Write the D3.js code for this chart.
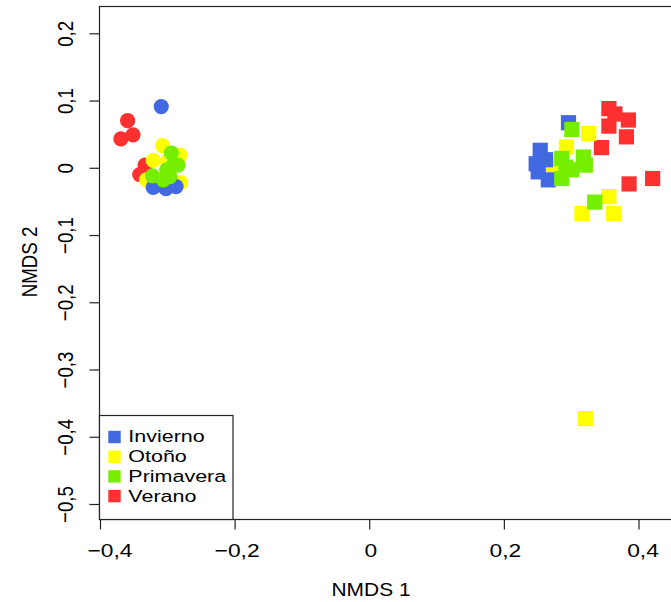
<!DOCTYPE html>
<html><head><meta charset="utf-8">
<script src="https://cdn.jsdelivr.net/npm/d3@7"></script>
<style>body{margin:0;background:#fff}svg{display:block}text{font-family:"Liberation Sans",Arial,sans-serif;fill:#000}</style>
</head><body>
<svg id="c" width="671" height="602"></svg>
<script>
const seasons = ["Invierno", "Otoño", "Primavera", "Verano"];
const colors = ["#4169E1", "#FFFF00", "#76EE00", "#FF3030"];
const xTicks = [-0.4, -0.2, 0, 0.2, 0.4];
const yTicks = [-0.5, -0.4, -0.3, -0.2, -0.1, 0, 0.1, 0.2];
// circles (left group)
const inviernoCirc = [[-0.309,0.091],[-0.321,-0.029],[-0.287,-0.028],[-0.302,-0.031],[-0.310,-0.020]];
const otonoCirc = [[-0.307,0.033],[-0.321,0.011],[-0.281,0.019],[-0.280,-0.022],[-0.331,-0.018],[-0.300,0.010]];
const primaveraCirc = [[-0.294,0.022],[-0.291,0.005],[-0.301,-0.003],[-0.322,-0.012],[-0.306,-0.018],[-0.296,-0.013],[-0.284,0.004]];
const veranoCirc = [[-0.359,0.070],[-0.369,0.043],[-0.351,0.049],[-0.341,-0.010],[-0.333,0.004],[-0.300,-0.028]];
// squares (right group)
const inviernoSq = [[0.296,0.067],[0.254,0.026],[0.248,0.006],[0.251,-0.006],[0.266,-0.018],[0.262,0.012]];
const otonoSq = [[0.326,0.051],[0.293,0.031],[0.271,0.004],[0.356,-0.043],[0.316,-0.068],[0.363,-0.068],[0.321,-0.373],[0.285,0.000]];
const primaveraSq = [[0.301,0.057],[0.286,0.014],[0.318,0.016],[0.321,0.004],[0.301,-0.003],[0.286,-0.016],[0.335,-0.051],[0.292,0.001]];
const veranoSq = [[0.356,0.088],[0.385,0.071],[0.356,0.062],[0.382,0.046],[0.345,0.030],[0.386,-0.024],[0.421,-0.016],[0.365,0.080]];

const circSets = [inviernoCirc, otonoCirc, primaveraCirc, veranoCirc];
const sqSets = [inviernoSq, otonoSq, primaveraSq, veranoSq];
const drawOrder = [3, 1, 0, 2];

const svg = d3.select("#c");
const x = d3.scaleLinear().domain([-0.4, 0.4]).range([100, 638.5]);
const y = d3.scaleLinear().domain([-0.5, 0.2]).range([504, 33.3]);
const box = {l: 99.5, t: 6.5, b: 519.5, r: 690};
const fs = 18.7;
const sx = 1.22;
const fmt = d => d3.format("")(d).replace("-", "\u2212").replace(".", ",");

const g = svg.append("g");
drawOrder.forEach(i => {
  g.selectAll(null).data(circSets[i]).enter().append("circle")
    .attr("cx", d => x(d[0])).attr("cy", d => y(d[1])).attr("r", 7.6)
    .attr("fill", colors[i]);
});
drawOrder.forEach(i => {
  g.selectAll(null).data(sqSets[i]).enter().append("rect")
    .attr("x", d => x(d[0]) - 7.6).attr("y", d => y(d[1]) - 7.6)
    .attr("width", 15.2).attr("height", 15.2)
    .attr("fill", colors[i]);
});

// frame
svg.append("rect").attr("x", box.l).attr("y", box.t)
  .attr("width", box.r - box.l).attr("height", box.b - box.t)
  .attr("fill", "none").attr("stroke", "#222").attr("stroke-width", 1.2);

// x axis
const xa = svg.append("g").attr("transform", `translate(0,${box.b})`)
  .call(d3.axisBottom(x).tickValues(xTicks).tickSize(10).tickFormat(fmt));
xa.select(".domain").remove();
xa.selectAll("line").attr("stroke", "#222").attr("stroke-width", 1.2);
xa.selectAll("text").attr("font-size", fs).attr("font-family", '"Liberation Sans",Arial,sans-serif')
  .attr("y", 0).attr("dy", null)
  .attr("transform", d => `translate(${d === -0.4 ? 9.5 : (d < 0 ? 2 : (d > 0.3 ? 4 : 1))},37.5) scale(${sx},1)`);

// y axis
const ya = svg.append("g").attr("transform", `translate(${box.l},0)`)
  .call(d3.axisLeft(y).tickValues(yTicks).tickSize(10).tickFormat(fmt));
ya.select(".domain").remove();
ya.selectAll("line").attr("stroke", "#222").attr("stroke-width", 1.2);
ya.selectAll("text").attr("font-size", fs).attr("font-family", '"Liberation Sans",Arial,sans-serif')
  .attr("x", null).attr("dy", null)
  .attr("text-anchor", "middle")
  .attr("transform", `translate(-26.5,0) scale(${sx},1) rotate(-90)`);

// axis titles
svg.append("text").attr("transform", `translate(371,596) scale(1.12,1)`).attr("text-anchor", "middle")
  .attr("font-size", fs).text("NMDS 1");
svg.append("text").attr("transform", `translate(37,262) scale(${sx},1) rotate(-90)`)
  .attr("text-anchor", "middle").attr("font-size", fs).text("NMDS 2");

// legend
const lg = svg.append("g");
lg.append("rect").attr("x", box.l).attr("y", 415.5).attr("width", 233 - box.l).attr("height", box.b - 415.5)
  .attr("fill", "#fff").attr("stroke", "#222").attr("stroke-width", 1.2);
seasons.forEach((s, i) => {
  const cy = 437 + i * 19.7;
  lg.append("rect").attr("x", 108.3).attr("y", cy - 6.2).attr("width", 12.4).attr("height", 12.4).attr("fill", colors[i]);
  lg.append("text").attr("transform", `translate(128.3,${cy + 5.4}) scale(1.25,1)`)
    .attr("font-size", 17.2).text(s);
});
</script>
</body></html>
